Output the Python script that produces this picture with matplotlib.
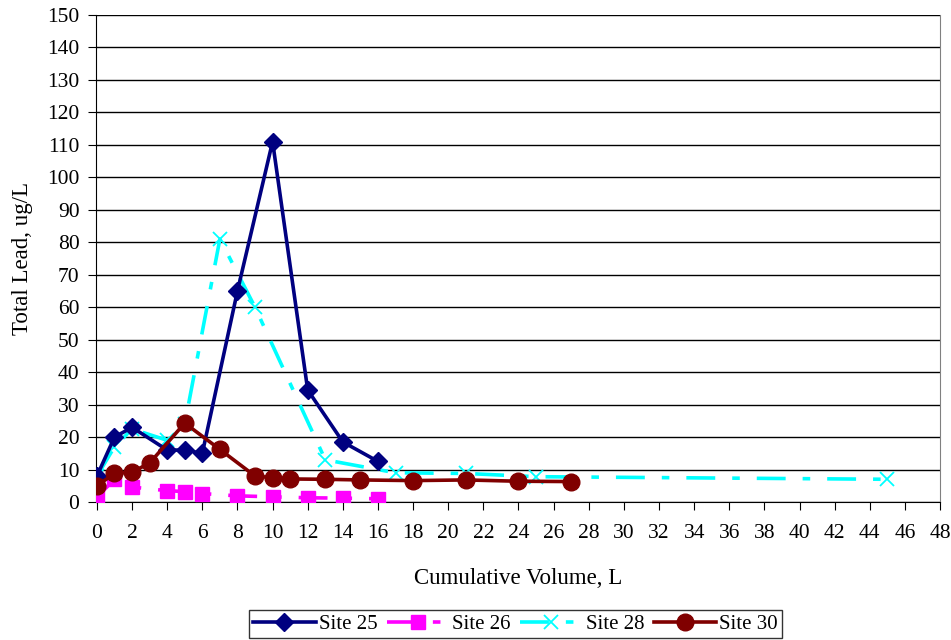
import matplotlib
matplotlib.use("Agg")
import matplotlib.pyplot as plt

plt.rcParams['font.family'] = ['Liberation Serif', 'DejaVu Serif']

x25 = [0, 1, 2, 4, 5, 6, 8, 10, 12, 14, 16]
y25 = [8, 20, 23, 16, 16, 15, 65, 111, 34.5, 18.5, 12.5]

x26 = [0, 1, 2, 4, 5, 6, 8, 10, 12, 14, 16]
y26 = [1.5, 7, 4.6, 3.5, 3.2, 2.6, 1.9, 1.6, 1.3, 1.2, 1.0]

x28 = [0, 1, 2, 4, 5, 7, 9, 13, 17, 21, 25, 45]
y28 = [8, 17, 22.5, 19, 24, 81, 60, 13, 9, 8.8, 7.8, 7]

x30 = [0, 1, 2, 3, 5, 7, 9, 10, 11, 13, 15, 18, 21, 24, 27]
y30 = [5, 8.8, 9.2, 12, 24.3, 16.2, 8, 7.5, 7.1, 7, 6.8, 6.6, 6.8, 6.4, 6.3]

labels = ["Site 25", "Site 26", "Site 28", "Site 30"]

fig = plt.figure(figsize=(9.51, 6.40), dpi=100)
ax = fig.add_axes([0.101, 0.2156, 0.8875, 0.761])

dashdot = (0, (8, 4.7, 2.1, 4.7))
lw = 2.6
ax.plot(x25, y25, color='#000080', lw=lw, marker='D', ms=9.5, label=labels[0], zorder=4)
ax.plot(x26, y26, color='#FF00FF', lw=lw, ls=dashdot, marker='s', ms=10, label=labels[1], zorder=3)
ax.plot(x28, y28, color='#00FFFF', lw=lw, ls=dashdot, marker='x', ms=10.5, mew=1.3, label=labels[2], zorder=3)
ax.plot(x30, y30, color='#800000', lw=lw, marker='o', ms=12, label=labels[3], zorder=4)

ax.set_xlim(-0.05, 48)
ax.set_ylim(0, 150)
ax.set_xticks(range(0, 49, 2))
ax.set_yticks(range(0, 151, 10))
ax.grid(axis='y', color='black', lw=1.0)
ax.set_axisbelow(True)
ax.tick_params(direction='out', length=6, labelsize=15.5, color='black', pad=6)
ax.tick_params(axis='x', pad=10)
ax.spines['top'].set_visible(False)
ax.spines['right'].set_color('#808080')
ax.spines['left'].set_color('black')
ax.spines['bottom'].set_color('black')

ax.set_xlabel("Cumulative Volume, L", fontsize=16.5, labelpad=18)
ax.set_ylabel("Total Lead, ug/L", fontsize=16.5, labelpad=10)

leg = fig.legend(loc='lower center', bbox_to_anchor=(0.542, 0.003), ncol=4, fontsize=15,
                 frameon=True, fancybox=False, edgecolor='black', handlelength=3.0,
                 handletextpad=0.15, columnspacing=0.45, borderpad=0.2, borderaxespad=0)
leg.get_frame().set_linewidth(1.0)

fig.savefig("out.png", dpi=100)
